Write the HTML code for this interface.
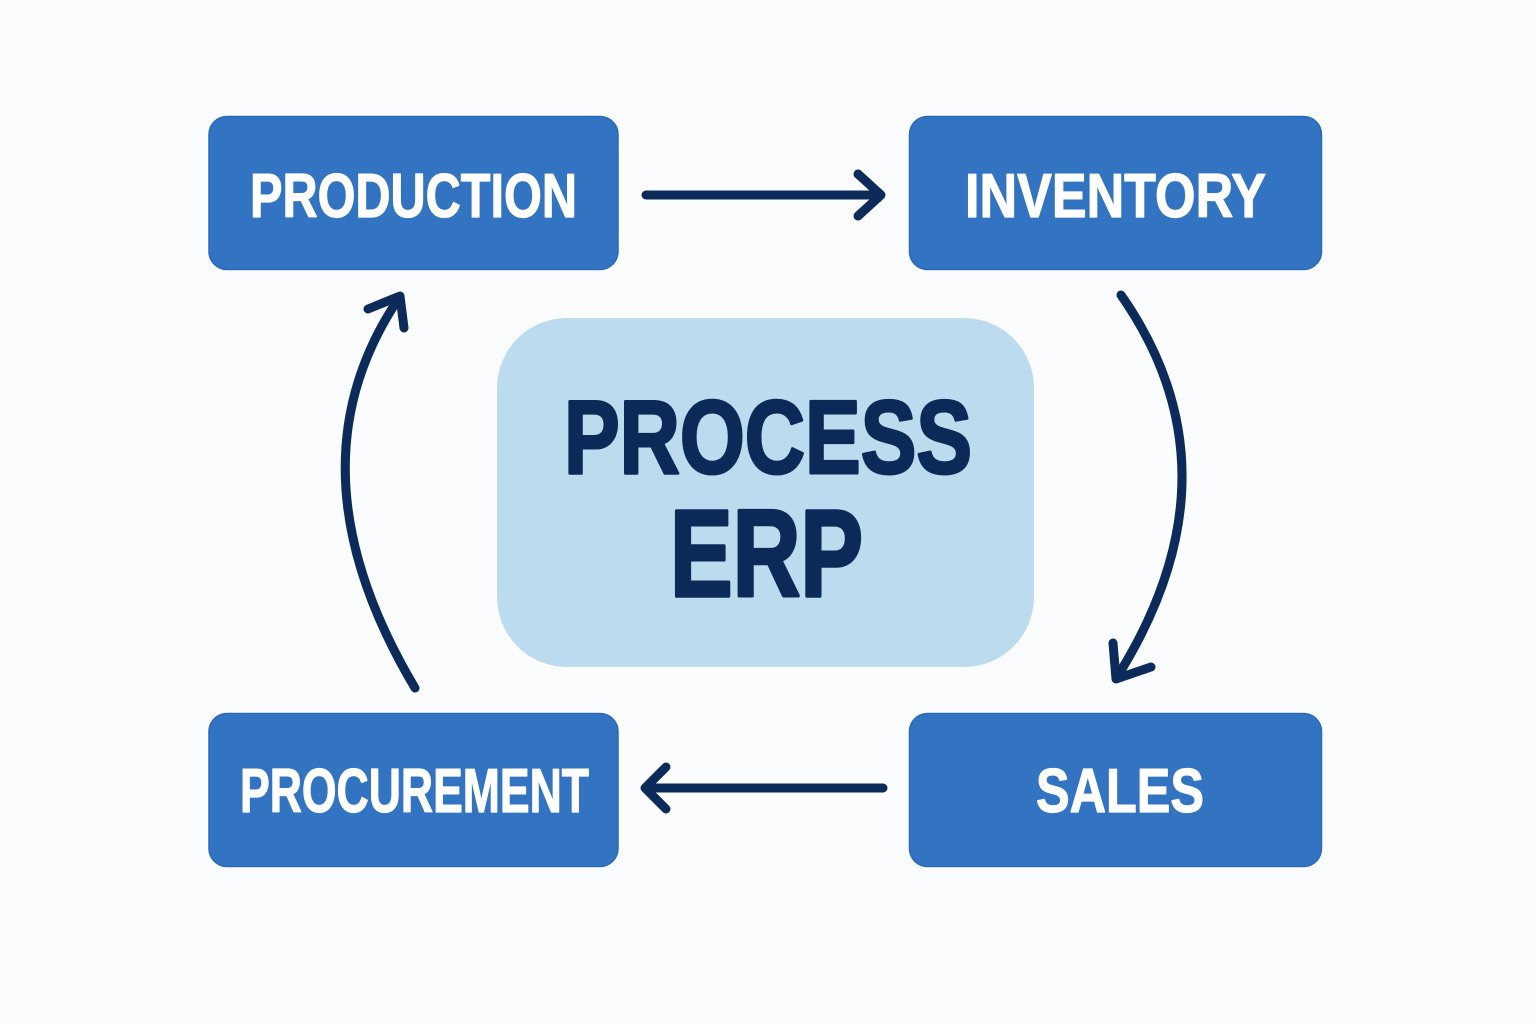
<!DOCTYPE html>
<html>
<head>
<meta charset="utf-8">
<style>
  html,body{margin:0;padding:0;background:#fbfcfd;}
  svg{display:block;}
  text{font-family:"Liberation Sans",Arial,sans-serif;font-weight:bold;}
</style>
</head>
<body>
<svg width="1536" height="1024" viewBox="0 0 1536 1024" xmlns="http://www.w3.org/2000/svg">
  <rect x="0" y="0" width="1536" height="1024" fill="#fbfcfd"/>

  <!-- Center box -->
  <rect x="497" y="318" width="537" height="349" rx="70" ry="70" fill="#bddbef"/>
  <text x="564" y="473" font-size="104" fill="#0c2a58" stroke="#0c2a58" stroke-width="3" stroke-linejoin="round" textLength="408" lengthAdjust="spacingAndGlyphs">PROCESS</text>
  <text x="670" y="596" font-size="123" fill="#0c2a58" stroke="#0c2a58" stroke-width="3.5" stroke-linejoin="round" textLength="193" lengthAdjust="spacingAndGlyphs">ERP</text>

  <!-- Boxes -->
  <rect x="209" y="116.5" width="409" height="153" rx="18" ry="18" fill="#3274c2" stroke="#2b6ab8" stroke-width="1.5"/>
  <rect x="909.5" y="116.5" width="412" height="153" rx="18" ry="18" fill="#3274c2" stroke="#2b6ab8" stroke-width="1.5"/>
  <rect x="209" y="713.5" width="409" height="153" rx="18" ry="18" fill="#3274c2" stroke="#2b6ab8" stroke-width="1.5"/>
  <rect x="909.5" y="713.5" width="412" height="153" rx="18" ry="18" fill="#3274c2" stroke="#2b6ab8" stroke-width="1.5"/>

  <g fill="#ffffff" stroke="#ffffff" stroke-width="1.2" stroke-linejoin="round">
    <text x="250" y="217" font-size="62" textLength="327" lengthAdjust="spacingAndGlyphs">PRODUCTION</text>
    <text x="965" y="217" font-size="62" textLength="301" lengthAdjust="spacingAndGlyphs">INVENTORY</text>
    <text x="240" y="812" font-size="62" textLength="349" lengthAdjust="spacingAndGlyphs">PROCUREMENT</text>
    <text x="1036" y="812" font-size="62" textLength="168" lengthAdjust="spacingAndGlyphs">SALES</text>
  </g>

  <!-- Arrows -->
  <g fill="none" stroke="#0d2b5a" stroke-width="9" stroke-linecap="round" stroke-linejoin="round">
    <!-- top: production -> inventory -->
    <path d="M646,195 L880,195"/>
    <path d="M858,174 L881,195 L858,216"/>
    <!-- bottom: sales -> procurement -->
    <path d="M883,788 L647,788"/>
    <path d="M666,767 L645,788 L666,809"/>
    <!-- right curve: inventory -> sales -->
    <path d="M1121,295 Q1245,473 1117,677"/>
    <path d="M1113,643 L1116,679 L1151,667"/>
    <!-- left curve: procurement -> production -->
    <path d="M415,688 Q284,468 399,298"/>
    <path d="M368,309 L400,296 L404,328"/>
  </g>
</svg>
</body>
</html>
